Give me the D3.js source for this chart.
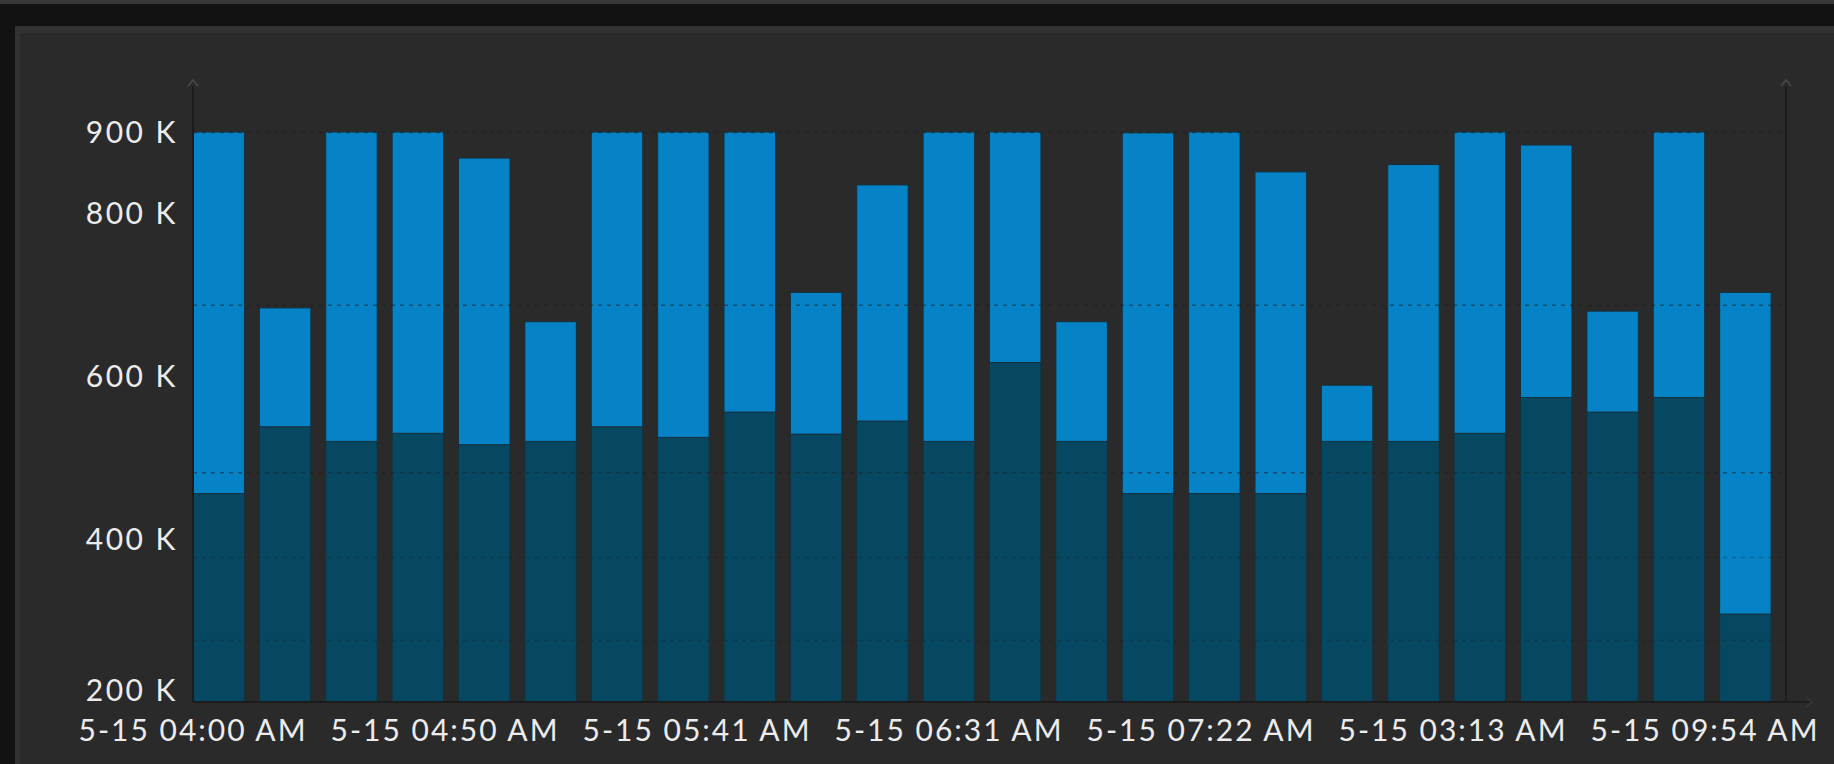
<!DOCTYPE html>
<html>
<head>
<meta charset="utf-8">
<script src="https://cdn.jsdelivr.net/npm/d3@7"></script>
<style>
  html, body { margin: 0; padding: 0; background: #121212; }
  #chart { width: 1834px; height: 764px; }
</style>
</head>
<body>
<div id="chart"></div>
<script>
// values in thousands
const lowValues = [456, 538, 520, 530, 516, 520, 538, 525, 556, 529, 545, 520,
                   617, 520, 456, 456, 456, 520, 520, 530, 574, 556, 574, 308];
const topValues = [908, 684, 908, 908, 868, 667, 908, 908, 908, 703, 835, 908,
                   908, 667, 899, 908, 851, 589, 860, 908, 884, 680, 908, 703];
const yTickValues = [200, 400, 600, 800, 900];
const gridValues = [900, 688, 482, 378, 276];
const xLabels = ["5-15 04:00 AM", "5-15 04:50 AM", "5-15 05:41 AM", "5-15 06:31 AM",
                 "5-15 07:22 AM", "5-15 03:13 AM", "5-15 09:54 AM"];

const W = 1834, H = 764;
const plotLeft = 193, plotRight = 1786, baseY = 702, topY = 132;

const svg = d3.select("#chart")
    .append("svg")
    .attr("width", W)
    .attr("height", H);

// frame / panel
svg.append("rect").attr("width", W).attr("height", H).attr("fill", "#121212");
svg.append("rect").attr("x", 0).attr("y", 0).attr("width", W).attr("height", 4).attr("fill", "#383838");
svg.append("rect").attr("x", 15).attr("y", 26).attr("width", W - 15).attr("height", H - 26).attr("fill", "#323232");
svg.append("rect").attr("x", 20).attr("y", 33).attr("width", W - 20).attr("height", H - 33).attr("fill", "#2a2a2a");

const bars = lowValues.map((d, i) => ({low: d, high: topValues[i] - d}));
const stack = d3.stack().keys(["low", "high"])(bars);

const x = d3.scaleBand()
    .domain(d3.range(bars.length))
    .range([plotLeft, plotRight])
    .paddingInner(0.225)
    .paddingOuter(0.1125)
    .align(0);

const y = d3.scaleLinear()
    .domain([200, 900])
    .range([baseY, topY])
    .clamp(true);

const colors = {low: "#064862", high: "#0583c6"};

// bars
svg.append("g")
  .selectAll("g")
  .data(stack)
  .join("g")
    .attr("fill", d => colors[d.key])
  .selectAll("rect")
  .data(d => d)
  .join("rect")
    .attr("x", (d, i) => x(i))
    .attr("y", d => y(d[1]))
    .attr("width", x.bandwidth())
    .attr("height", d => y(d[0]) - y(d[1]))
    .attr("stroke", "#16303c")
    .attr("stroke-width", 1);

// grid lines (dotted)
svg.append("g")
  .selectAll("line")
  .data(gridValues)
  .join("line")
    .attr("x1", plotLeft)
    .attr("x2", plotRight)
    .attr("y1", d => y(d) + 0.5)
    .attr("y2", d => y(d) + 0.5)
    .attr("stroke", "#1b1b1b")
    .attr("stroke-opacity", (d, i) => i < 3 ? 0.5 : 0.3)
    .attr("stroke-width", 1.5)
    .attr("stroke-dasharray", "4,5");

// axis lines with arrows
const axisColor = "#1c1c1c";
svg.append("line").attr("x1", plotLeft).attr("x2", plotLeft).attr("y1", 86).attr("y2", baseY)
    .attr("stroke", axisColor).attr("stroke-width", 2);
svg.append("line").attr("x1", plotRight).attr("x2", plotRight).attr("y1", 86).attr("y2", baseY)
    .attr("stroke", axisColor).attr("stroke-width", 2);
svg.append("line").attr("x1", plotLeft).attr("x2", 1810).attr("y1", baseY).attr("y2", baseY)
    .attr("stroke", axisColor).attr("stroke-width", 2);

const arrowUp = "M-5,6 L0,0 L5,6";
[plotLeft, plotRight].forEach(px => {
  svg.append("path")
    .attr("d", arrowUp)
    .attr("transform", `translate(${px},80)`)
    .attr("fill", "none")
    .attr("stroke", "#4a4a4a")
    .attr("stroke-width", 1.5);
});
svg.append("path")
    .attr("d", "M-6,-5 L0,0 L-6,5")
    .attr("transform", `translate(1812,${baseY})`)
    .attr("fill", "none")
    .attr("stroke", "#3a3a3a")
    .attr("stroke-width", 1.5);

// y axis labels
const fmt = v => v + " K";
svg.append("g")
  .selectAll("text")
  .data(yTickValues)
  .join("text")
    .attr("x", 178)
    .attr("y", d => Math.min(y(d), baseY - 12))
    .attr("dy", "0.35em")
    .attr("text-anchor", "end")
    .attr("fill", "#ececec")
    .attr("font-family", "Lato, 'Open Sans', sans-serif")
    .attr("font-size", "30px")
    .attr("letter-spacing", "2.5px")
    .text(fmt);

// x axis labels
const xl = d3.scalePoint()
    .domain(xLabels)
    .range([plotLeft, 1705]);

svg.append("g")
  .selectAll("text")
  .data(xLabels)
  .join("text")
    .attr("x", d => xl(d))
    .attr("y", 741)
    .attr("text-anchor", "middle")
    .attr("fill", "#ececec")
    .attr("font-family", "Lato, 'Open Sans', sans-serif")
    .attr("font-size", "30px")
    .attr("letter-spacing", "2px")
    .text(d => d);
</script>
</body>
</html>
